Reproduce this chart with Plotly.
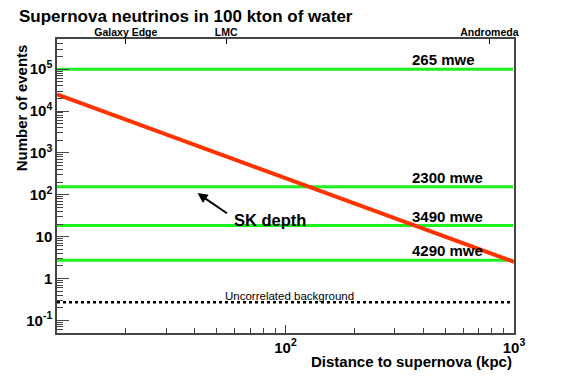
import math
import plotly.graph_objects as go

# values
distance_kpc = [10, 1000]
sn_events = [2.5e4, 2.5]

depth_labels = ["265 mwe", "2300 mwe", "3490 mwe", "4290 mwe"]
depth_rates = [1.0e5, 155, 18.4, 2.75]
depth_span = [10, 990]

background_rate = 0.27
background_span = [10, 985]

landmark_names = ["Galaxy Edge", "LMC", "Andromeda"]
landmark_kpc = [20, 55, 780]

y_tickvals = [0.1, 1, 10, 100, 1e3, 1e4, 1e5]
y_ticktext = ["10<sup>-1</sup>", "1", "10", "10<sup>2</sup>", "10<sup>3</sup>",
              "10<sup>4</sup>", "10<sup>5</sup>"]
x_tickvals = [100, 1000]
x_ticktext = ["10<sup>2</sup>", "10<sup>3</sup>"]

FONT = "Liberation Sans, Arial, Helvetica, sans-serif"
GREEN = "#1ef01e"
RED = "#ff3300"

fig = go.Figure()

for rate in depth_rates:
    fig.add_trace(go.Scatter(x=depth_span, y=[rate, rate], mode="lines",
                             line=dict(color=GREEN, width=3), showlegend=False,
                             hoverinfo="skip"))

fig.add_trace(go.Scatter(x=background_span, y=[background_rate] * 2, mode="lines",
                         line=dict(color="black", width=2.5, dash="dot"),
                         showlegend=False, hoverinfo="skip"))

fig.add_trace(go.Scatter(x=distance_kpc, y=sn_events, mode="lines",
                         line=dict(color=RED, width=4), showlegend=False))

# invisible trace to carry the top axis
fig.add_trace(go.Scatter(x=distance_kpc, y=sn_events, xaxis="x2", mode="lines",
                         line=dict(width=0), opacity=0, showlegend=False,
                         hoverinfo="skip"))

minor_x = [v * m for v in (10, 100) for m in range(2, 10)]
minor_y = [v * m for v in (0.01, 0.1, 1, 10, 100, 1e3, 1e4, 1e5) for m in range(2, 10)]

# page body has an 8px margin, so the figure is sized to fit inside it
fig.update_layout(
    width=556, height=372,
    margin=dict(l=49, r=50, t=31, b=47, autoexpand=False),
    paper_bgcolor="white", plot_bgcolor="white",
    font=dict(family=FONT, color="black"),
    showlegend=False,
    xaxis=dict(type="log", range=[1, 3], showgrid=False, zeroline=False,
               automargin=False,
               showline=True, linecolor="#444", linewidth=1.5, mirror=True,
               tickvals=x_tickvals, ticktext=x_ticktext, ticks="inside",
               ticklen=8, tickcolor="#444",
               tickfont=dict(size=15, family=FONT, weight="bold"),
               minor=dict(tickvals=minor_x, ticks="inside", ticklen=5,
                          tickcolor="#444", showgrid=False)),
    xaxis2=dict(type="log", range=[1, 3], overlaying="x", side="top",
                automargin=False,
                showgrid=False, zeroline=False, showline=False,
                tickvals=landmark_kpc, ticktext=landmark_names,
                ticks="inside", ticklen=5, tickcolor="black",
                tickfont=dict(size=10.5, family=FONT, weight="bold")),
    yaxis=dict(type="log", range=[-1.3, 5.72], showgrid=False, zeroline=False,
               automargin=False,
               showline=True, linecolor="#444", linewidth=1.5, mirror=True,
               tickvals=y_tickvals, ticktext=y_ticktext, ticks="inside",
               ticklen=12, tickcolor="#444",
               tickfont=dict(size=15, family=FONT, weight="bold"),
               minor=dict(tickvals=minor_y, ticks="inside", ticklen=6,
                          tickcolor="#444", showgrid=False)),
)

annotations = [
    dict(text="Supernova neutrinos in 100 kton of water", xref="paper", yref="paper",
         x=-0.088, y=1.077, xanchor="left", yanchor="middle", showarrow=False,
         font=dict(size=17, family=FONT, weight="bold")),
    dict(text="Number of events", xref="paper", yref="paper", x=-0.077, y=0.99,
         xanchor="center", yanchor="top", textangle=-90, showarrow=False,
         font=dict(size=15, family=FONT, weight="bold")),
    dict(text="Distance to supernova (kpc)", xref="paper", yref="paper", x=1.0,
         y=-0.06, xanchor="right", yanchor="top", showarrow=False,
         font=dict(size=15, family=FONT, weight="bold")),
    dict(text="Uncorrelated background", x=math.log10(104), y=math.log10(background_rate),
         xanchor="center", yanchor="bottom", yshift=-2, showarrow=False,
         font=dict(size=11.5, family=FONT)),
    dict(text="SK depth", x=1.934, y=1.39, xanchor="center", yanchor="middle",
         showarrow=False, font=dict(size=16.5, family=FONT, weight="bold")),
    dict(text="", x=1.615, y=2.04, ax=1.75, ay=1.535, axref="x", ayref="y",
         showarrow=True, arrowhead=2, arrowsize=1, arrowwidth=2, arrowcolor="black"),
]
for i, (lab, rate) in enumerate(zip(depth_labels, depth_rates)):
    xpos = 2.69 if i == 0 else 2.71
    annotations.append(dict(text=lab, x=xpos, y=math.log10(rate), xanchor="center",
                            yanchor="bottom", yshift=-1, showarrow=False,
                            font=dict(size=15, family=FONT, weight="bold")))

fig.update_layout(annotations=annotations)

fig.write_html("out.html")
